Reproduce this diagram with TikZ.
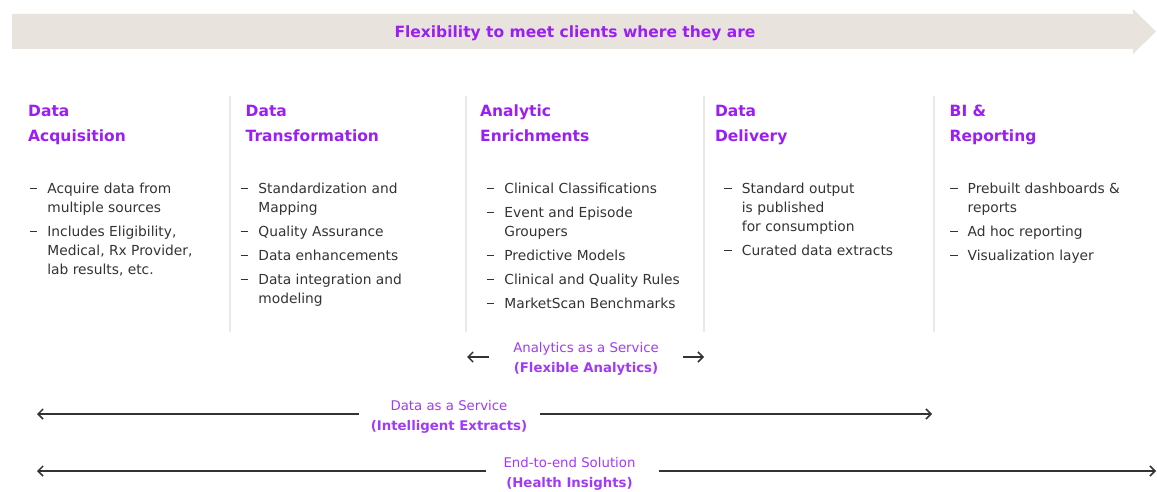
\documentclass[tikz,border=0pt]{standalone}
\usepackage{fontspec}
\setmainfont{DejaVu Sans}
\usetikzlibrary{arrows.meta,positioning}
\definecolor{brandpurple}{HTML}{9B1FF2}
\definecolor{softpurple}{HTML}{A13AF5}
\definecolor{bodygray}{HTML}{333333}
\definecolor{sand}{HTML}{E8E3DC}
\definecolor{rulegray}{HTML}{ECE8E3}
\newcommand{\bulitem}{\strut\makebox[17.7pt][l]{\rule[4.3pt]{7.5pt}{1.1pt}}}
\newcommand{\bulcont}{\strut\hspace*{17.7pt}}

\begin{document}
\begin{tikzpicture}[x=1pt, y=-1pt,
    stage/.style={anchor=north west, inner sep=0pt, align=left, text=brandpurple,
      font=\fontsize{15.5}{24.5}\selectfont\bfseries},
    items/.style={anchor=north west, inner sep=0pt, align=left, text=bodygray,
      font=\fontsize{13.8}{19}\selectfont},
    service/.style={inner sep=0pt, align=center, text=softpurple,
      font=\fontsize{13.3}{20}\selectfont},
    svcarrow/.style={-{Straight Barb[length=5pt,width=10pt]}, line width=1.5pt, draw=bodygray},
    separator/.style={draw=rulegray, line width=1.5pt}]
    \useasboundingbox (0,0) rectangle (1157,492);

    % Banner
    \fill[sand] (12,14) -- (1133,14) -- (1133,9) -- (1156,31.5) -- (1133,54) -- (1133,49) -- (12,49) -- cycle;
    \node[inner sep=0pt, text=brandpurple, font=\fontsize{15.5}{18}\selectfont\bfseries] (banner) at (575,33) {Flexibility to meet clients where they are};

    % Separators
    \draw[separator] (230,96) -- (230,332);
    \draw[separator] (466,96) -- (466,332);
    \draw[separator] (704,96) -- (704,332);
    \draw[separator] (934,96) -- (934,332);

    % Stages
    \node[stage] (acq) at (28,99.3) {\strut Data\\Acquisition};
    \node[stage] (trans) at (245.5,99.3) {\strut Data\\Transformation};
    \node[stage] (enrich) at (480,99.3) {\strut Analytic\\Enrichments};
    \node[stage] (deliv) at (714.8,99.3) {\strut Data\\Delivery};
    \node[stage] (bi) at (949.5,99.3) {\strut BI \&\\Reporting};

    % Stage contents
    \node[items] (acqitems) at (29.5,180.2) {\bulitem Acquire data from\\
      \bulcont multiple sources\\[5pt]
      \bulitem Includes Eligibility,\\
      \bulcont Medical, Rx Provider,\\
      \bulcont lab results, etc.};
    \node[items] (transitems) at (240.5,180.2) {\bulitem Standardization and\\
      \bulcont Mapping\\[5pt]
      \bulitem Quality Assurance\\[5pt]
      \bulitem Data enhancements\\[5pt]
      \bulitem Data integration and\\
      \bulcont modeling};
    \node[items] (enrichitems) at (486.5,180.2) {\bulitem Clinical Classifications\\[5pt]
      \bulitem Event and Episode\\
      \bulcont Groupers\\[5pt]
      \bulitem Predictive Models\\[5pt]
      \bulitem Clinical and Quality Rules\\[5pt]
      \bulitem MarketScan Benchmarks};
    \node[items] (delivitems) at (724,180.2) {\bulitem Standard output\\
      \bulcont is published\\
      \bulcont for consumption\\[5pt]
      \bulitem Curated data extracts};
    \node[items] (biitems) at (949.8,180.2) {\bulitem Prebuilt dashboards \&\\
      \bulcont reports\\[5pt]
      \bulitem Ad hoc reporting\\[5pt]
      \bulitem Visualization layer};

    % Service offerings
    \node[service] (aaas) at (586,358.5) {\strut Analytics as a Service\\\strut\textbf{(Flexible Analytics)}};
    \node[service] (daas) at (449,416.5) {\strut Data as a Service\\\strut\textbf{(Intelligent Extracts)}};
    \node[service] (e2e) at (569.5,473.5) {\strut End-to-end Solution\\\strut\textbf{(Health Insights)}};

    \coordinate (aaasL) at (467,357);
    \coordinate (aaasR) at (704,357);
    \coordinate (daasL) at (37,414);
    \coordinate (daasR) at (932,414);
    \coordinate (e2eL) at (37,471);
    \coordinate (e2eR) at (1156,471);

    % Connections
    \draw[svcarrow, shorten <=24pt] (aaas.west |- aaasL) -- (aaasL);
    \draw[svcarrow, shorten <=24pt] (aaas.east |- aaasR) -- (aaasR);
    \draw[svcarrow, shorten <=12pt] (daas.west |- daasL) -- (daasL);
    \draw[svcarrow, shorten <=13pt] (daas.east |- daasR) -- (daasR);
    \draw[svcarrow, shorten <=17pt] (e2e.west |- e2eL) -- (e2eL);
    \draw[svcarrow, shorten <=23pt] (e2e.east |- e2eR) -- (e2eR);
\end{tikzpicture}
\end{document}
